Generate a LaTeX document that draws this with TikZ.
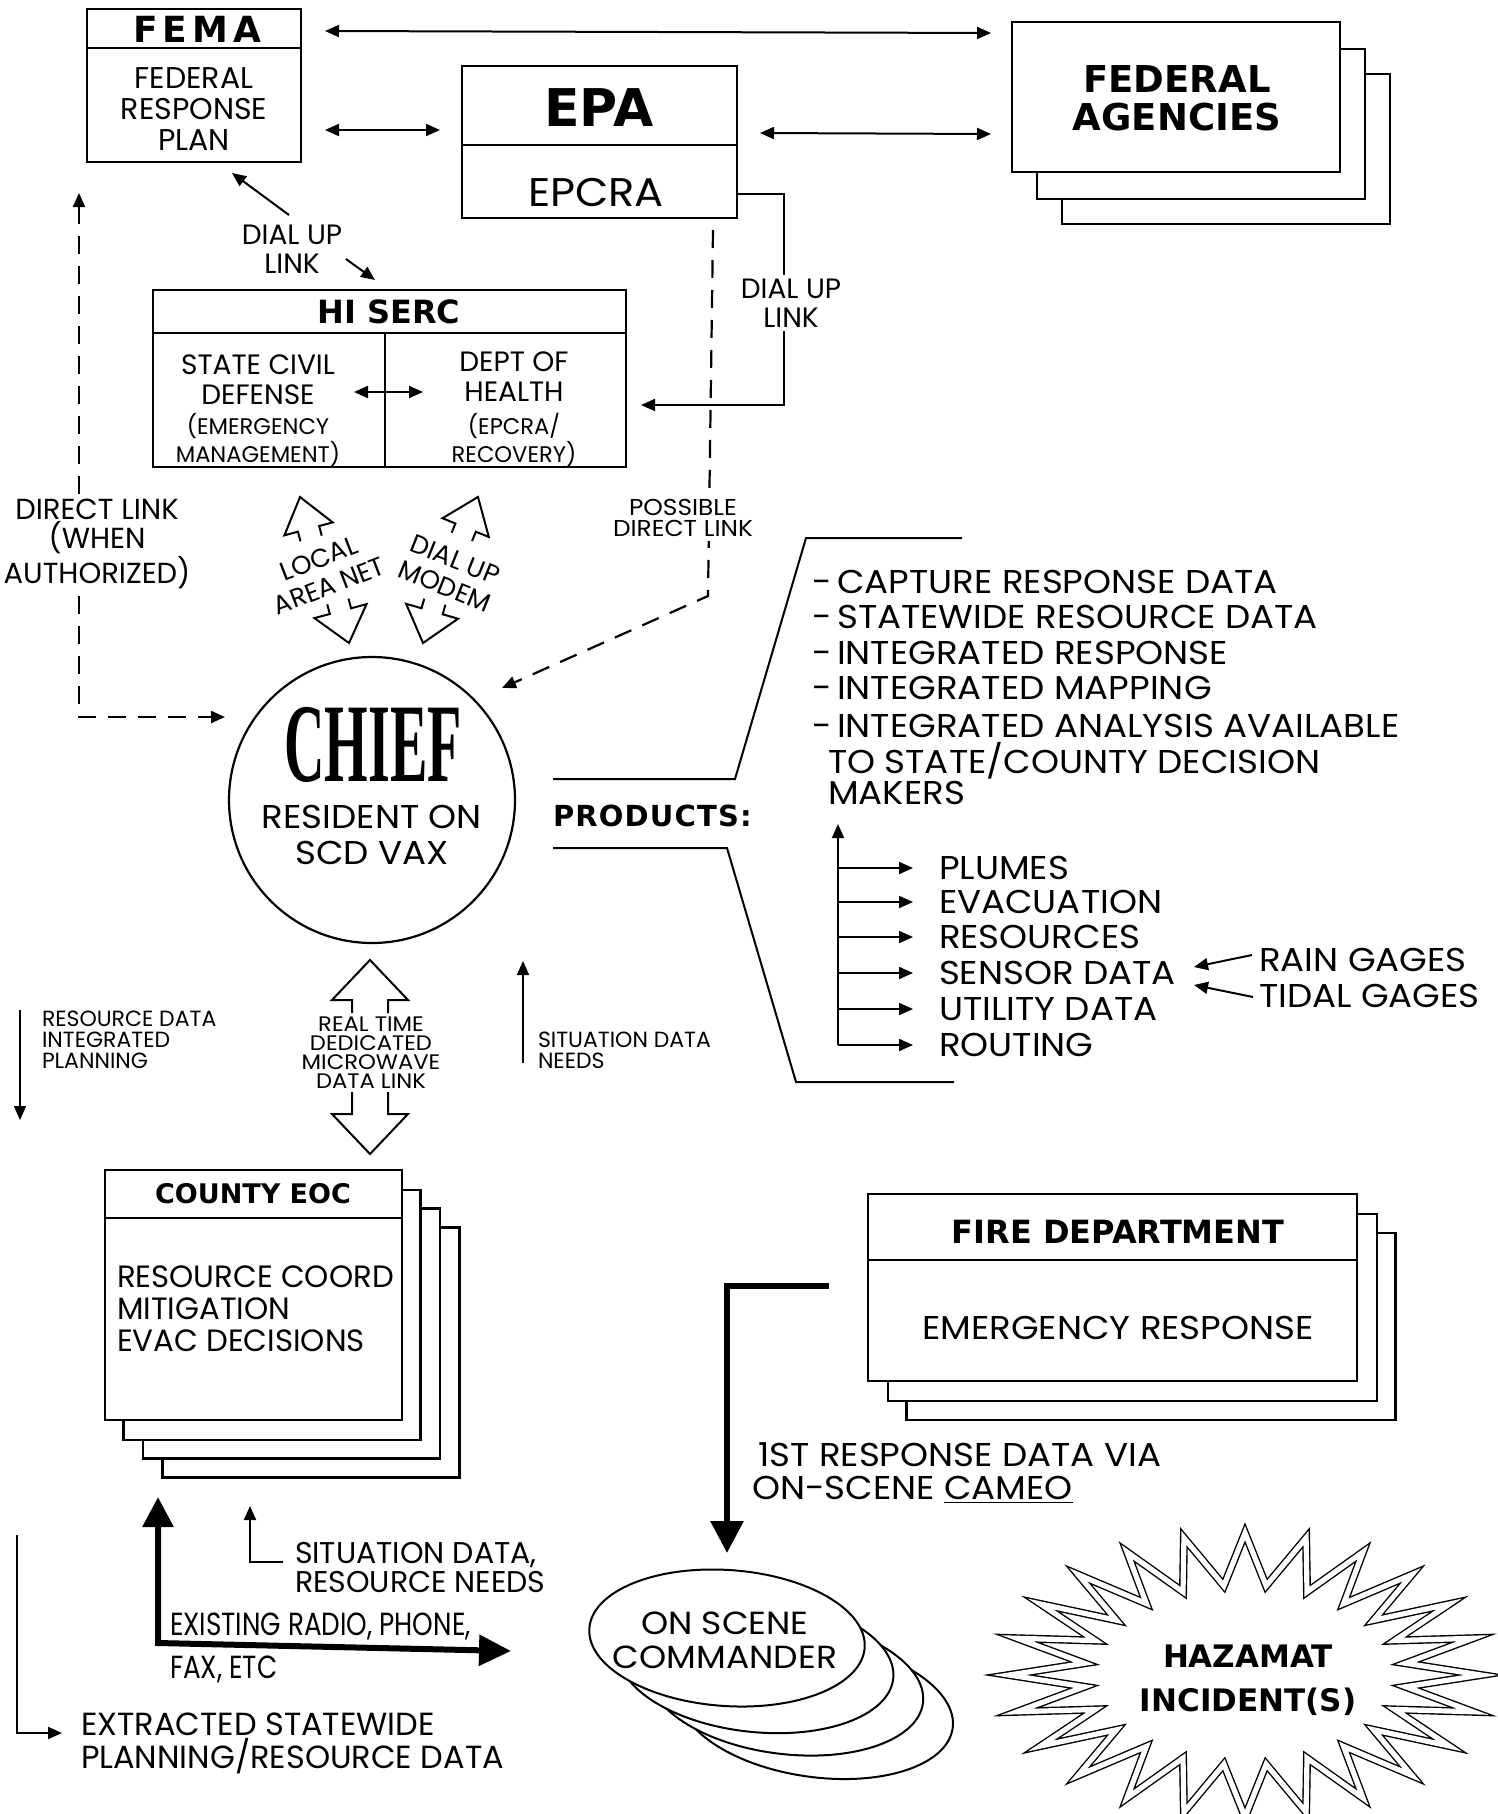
\documentclass[tikz,border=0pt]{standalone}
\usepackage{fontspec}
\usepackage{graphicx}
\setmainfont{Poppins}
\newfontfamily\hdr{DejaVu Sans}
\newfontfamily\cnd{Poppins}[FakeStretch=0.82]
\newfontfamily\wde{Poppins}[FakeStretch=1.08]
\newfontfamily\chf{Liberation Serif}
\usetikzlibrary{arrows.meta,shapes.geometric}
\newcommand{\fsz}[2]{\fontsize{#1}{#2}\selectfont}
\newcommand{\hollowhead}[7]{%
  \begin{scope}[shift={(#1,#2)},rotate=#3]
  \draw[line width=1pt, line join=miter] (-#6,#5+#7) -- (-#6,#5) -- (-#4,#5) -- (0,0) -- (#4,#5) -- (#6,#5) -- (#6,#5+#7);
  \end{scope}}
\begin{document}
\begin{tikzpicture}[x=0.5pt,y=-0.5pt,
  every node/.style={inner sep=0pt, outer sep=0pt},
  boxs/.style={draw, line width=1.1pt, fill=white, rectangle, inner sep=0pt},
  divl/.style={line width=1.1pt},
  ln/.style={line width=1pt},
  arr/.style={line width=1pt, -{Triangle[length=7pt,width=6pt]}},
  darr/.style={line width=1pt, {Triangle[length=7pt,width=6pt]}-{Triangle[length=7pt,width=6pt]}},
  dsh/.style={line width=1.1pt, dash pattern=on 9pt off 6pt},
  bigarr/.style={line width=3pt, -{Triangle[length=16pt,width=16pt]}},
  bigdarr/.style={line width=3pt, {Triangle[length=15pt,width=15pt]}-{Triangle[length=16pt,width=15pt]}},
  lbl/.style={fill=white, inner sep=2pt},
  hd/.style={font={\hdr\bfseries\fsz{16}{18}}},
  oval/.style={ellipse, draw, fill=white, line width=1pt, minimum width=138pt, minimum height=68pt},
]
\useasboundingbox (0,0) rectangle (1498,1814);
\fill[white] (0,0) rectangle (1498,1814);

% ---------------- FEMA
\node[boxs, minimum width=107pt, minimum height=76.5pt] (fema) at (194,85.5) {};
\draw[divl] (87,48) -- (301,48);
\node[font={\hdr\bfseries\addfontfeature{LetterSpace=14}\fsz{18}{20}}] (femat) at (197,29) {FEMA};
\node[font={\fsz{15}{15.5}}, align=center] (femab) at (194,109) {FEDERAL\\RESPONSE\\PLAN};

% ---------------- EPA
\node[boxs, minimum width=137.5pt, minimum height=76pt] (epa) at (599.5,142) {};
\draw[divl] (462,145) -- (737,145);
\node[font={\hdr\bfseries\fsz{26}{28}}] (epat) at (599,108) {EPA};
\node[font={\wde\fsz{20}{22}}] (epab) at (596,192) {EPCRA};

% ---------------- FEDERAL AGENCIES
\node[boxs, minimum width=164pt, minimum height=75pt] (fed3) at (1226,149) {};
\node[boxs, minimum width=164pt, minimum height=75pt] (fed2) at (1201,124) {};
\node[boxs, minimum width=164pt, minimum height=75pt] (fed1) at (1176,97) {};
\node[font={\hdr\bfseries\fsz{18.5}{19}}, align=center] (fedt) at (1177,98) {FEDERAL\\AGENCIES};

% top arrows
\coordinate (t1) at (325,31); \coordinate (t2) at (991,33);
\draw[darr] (t1) -- (t2);
\coordinate (t3) at (325,130); \coordinate (t4) at (440,130);
\draw[darr] (t3) -- (t4);
\coordinate (t5) at (760,133); \coordinate (t6) at (991,134);
\draw[darr] (t5) -- (t6);

% ---------------- HI SERC
\node[boxs, minimum width=236.5pt, minimum height=88.5pt] (serc) at (389.5,378.5) {};
\draw[divl] (153,333) -- (626,333);
\draw[divl] (385,333) -- (385,467);
\node[hd] (serct) at (389,312) {HI SERC};
\node[font={\fsz{14}{15}}, align=center] (scd) at (258,380) {STATE CIVIL\\DEFENSE};
\node[font={\fsz{11.3}{12.5}}, align=center] (scdb) at (258,440) {(EMERGENCY\\MANAGEMENT)};
\node[font={\fsz{14}{15}}, align=center] (doh) at (514,377) {DEPT OF\\HEALTH};
\node[font={\fsz{11.3}{12.5}}, align=center] (dohb) at (514,440) {(EPCRA/\\RECOVERY)};
\coordinate (h1) at (354,392); \coordinate (h2) at (423,392);
\draw[darr] (h1) -- (h2);

% dial up link (left)
\node[font={\fsz{14}{14.5}}, align=center] (dul) at (292,249) {DIAL UP\\LINK};
\coordinate (d1) at (289,215); \coordinate (d2) at (232,173);
\draw[arr] (d1) -- (d2);
\coordinate (d3) at (346,259); \coordinate (d4) at (375,280);
\draw[arr] (d3) -- (d4);

% EPA -> HI SERC dial up link
\coordinate (e1) at (737,194); \coordinate (eb) at (784,300); \coordinate (e2) at (641,405);
\draw[arr] (e1) -| (eb) |- (e2);
\node[lbl, font={\fsz{14}{14.5}}, align=center] (dur) at (791,303) {DIAL UP\\LINK};

% ---------------- CHIEF
\node[circle, draw, line width=1.1pt, minimum size=143pt] (chief) at (372,800) {};
\node (chieft) at (373,745) {\scalebox{0.5}[1]{\chf\bfseries\fsz{56}{56}CHIEF}};
\node[font={\wde\fsz{16.5}{18}}, align=center] (chiefb) at (372,835) {RESIDENT ON\\SCD VAX};

% direct link (left dashed)
\coordinate (dl1) at (79,193); \coordinate (dl2) at (225,717);
\draw[dsh, {Triangle[length=7pt,width=6pt]}-{Triangle[length=7pt,width=6pt]}] (dl1) |- (dl2);
\node[lbl, font={\fsz{14.5}{14.5}}, align=center] (dlt) at (97,544) {DIRECT LINK\\(WHEN\\AUTHORIZED)};

% possible direct link
\coordinate (pd1) at (713,230); \coordinate (pd2) at (708,596); \coordinate (pd3) at (502,688);
\draw[dsh, -{Triangle[length=7pt,width=6pt]}] (pd1) -- (pd2) -- (pd3);
\node[lbl, font={\wde\fsz{11.5}{10.5}}, align=center] (pdt) at (683,518) {POSSIBLE\\DIRECT LINK};

% local area net / dial up modem
\hollowhead{300}{497}{15}{25}{33}{11}{10}
\hollowhead{349}{643}{195}{27}{33}{11}{10}
\hollowhead{478}{497}{-22}{25}{33}{11}{10}
\hollowhead{423}{643}{164}{27}{33}{11}{10}
\node[font={\fsz{13}{14.5}}, align=center, rotate=21] (lan) at (324,572) {LOCAL\\AREA NET};
\node[font={\fsz{13}{14.5}}, align=center, rotate=-22] (mdm) at (450,573) {DIAL UP\\MODEM};

% ---------------- PRODUCTS
\draw[ln] (553,779) -- (735,779) -- (806,538) -- (962,538);
\draw[ln] (553,848) -- (727,848) -- (796,1082) -- (954,1082);
\node[anchor=west, font={\hdr\bfseries\addfontfeature{LetterSpace=4}\fsz{14.5}{16}}] (prod) at (553,816) {PRODUCTS:};
\node[anchor=west, font={\wde\fsz{16.5}{18}}] (b1) at (812,582) {-\,CAPTURE RESPONSE DATA};
\node[anchor=west, font={\wde\fsz{16.5}{18}}] (b2) at (812,617) {-\,STATEWIDE RESOURCE DATA};
\node[anchor=west, font={\wde\fsz{16.5}{18}}] (b3) at (812,653) {-\,INTEGRATED RESPONSE};
\node[anchor=west, font={\wde\fsz{16.5}{18}}] (b4) at (812,688) {-\,INTEGRATED MAPPING};
\node[anchor=west, font={\wde\fsz{16.5}{18}}] (b5) at (812,726) {-\,INTEGRATED ANALYSIS AVAILABLE};
\node[anchor=west, font={\wde\fsz{16.5}{18}}] (b6) at (828,761) {TO STATE/COUNTY DECISION};
\node[anchor=west, font={\wde\fsz{16.5}{18}}] (b7) at (828,793) {MAKERS};

\coordinate (pv0) at (838,1045); \coordinate (pv1) at (838,824);
\draw[arr] (pv0) -- (pv1);
\foreach \yy/\nm/\tx in {868/p1/PLUMES, 902/p2/EVACUATION, 937/p3/RESOURCES, 973/p4/SENSOR DATA, 1009/p5/UTILITY DATA, 1045/p6/ROUTING} {
  \node[anchor=west, font={\wde\fsz{16.5}{17}}] (\nm) at (939,\yy) {\tx};
  \draw[arr] (838,\yy) -- ([xshift=-13pt]\nm.west);
}
\node[anchor=west, font={\wde\fsz{16.5}{17}}] (rain) at (1259,960) {RAIN GAGES};
\node[anchor=west, font={\wde\fsz{16.5}{17}}] (tidal) at (1259,996) {TIDAL GAGES};
\coordinate (r1) at (1252,955); \coordinate (r2) at (1194,967);
\draw[arr] (r1) -- (r2);
\coordinate (r3) at (1253,997); \coordinate (r4) at (1194,985);
\draw[arr] (r3) -- (r4);

% situation data needs / resource data
\coordinate (sn1) at (523,1063); \coordinate (sn2) at (523,961);
\draw[arr] (sn1) -- (sn2);
\node[anchor=west, font={\fsz{11}{10.5}}, align=left] (snt) at (538,1050) {SITUATION DATA\\NEEDS};
\coordinate (rd1) at (20,1010); \coordinate (rd2) at (20,1120);
\draw[arr] (rd1) -- (rd2);
\node[anchor=west, font={\fsz{11}{10.5}}, align=left] (rdt) at (42,1040) {RESOURCE DATA\\INTEGRATED\\PLANNING};

% microwave link
\hollowhead{370}{960}{0}{38}{40}{18}{13}
\hollowhead{370}{1154}{180}{38}{40}{18}{22}
\node[font={\wde\fsz{10.5}{9.5}}, align=center] (mwt) at (371,1053) {REAL TIME\\DEDICATED\\MICROWAVE\\DATA LINK};

% ---------------- COUNTY EOC
\node[boxs, minimum width=148.5pt, minimum height=125pt] (eoc4) at (311,1352.5) {};
\node[boxs, minimum width=148.5pt, minimum height=125pt] (eoc3) at (291.5,1333.5) {};
\node[boxs, minimum width=148.5pt, minimum height=125pt] (eoc2) at (272,1315) {};
\node[boxs, minimum width=148.5pt, minimum height=125pt] (eoc1) at (253.5,1295) {};
\draw[divl] (105,1218) -- (402,1218);
\node[font={\hdr\bfseries\fsz{13.5}{17}}] (eoct) at (253,1194) {COUNTY EOC};
\node[anchor=west, font={\fsz{15.4}{16}}, align=left] (eocb) at (117,1309) {RESOURCE COORD\\MITIGATION\\EVAC DECISIONS};

\coordinate (c1) at (158,1497); \coordinate (c2) at (158,1643); \coordinate (c3) at (511,1651);
\draw[bigdarr, line join=miter] (c1) -- (c2) -- (c3);
\node[anchor=west, font={\cnd\fsz{16}{17}}] (ex1) at (170,1626) {EXISTING RADIO, PHONE,};
\node[anchor=west, font={\cnd\fsz{16}{17}}] (ex2) at (170,1669) {FAX, ETC};

\coordinate (s1) at (283,1562); \coordinate (s2) at (250,1506);
\draw[arr] (s1) -| (s2);
\node[anchor=west, font={\fsz{15}{14.5}}, align=left] (sdt) at (295,1567) {SITUATION DATA,\\RESOURCE NEEDS};

\coordinate (x1) at (17,1535); \coordinate (x2) at (62,1733);
\draw[arr] (x1) |- (x2);
\node[anchor=west, font={\fsz{16}{16.5}}, align=left] (xtt) at (81,1743) {EXTRACTED STATEWIDE\\PLANNING/RESOURCE DATA};

% ---------------- FIRE DEPARTMENT
\node[boxs, minimum width=244.5pt, minimum height=93.5pt] (fire3) at (1151,1326.5) {};
\node[boxs, minimum width=244.5pt, minimum height=93.5pt] (fire2) at (1132.5,1307.5) {};
\node[boxs, minimum width=244.5pt, minimum height=93.5pt] (fire1) at (1112.5,1287.5) {};
\draw[divl] (868,1260) -- (1357,1260);
\node[hd] (firet) at (1118,1232) {FIRE DEPARTMENT};
\node[font={\wde\fsz{16.5}{17}}] (fireb) at (1118,1328) {EMERGENCY RESPONSE};

\coordinate (f1) at (829,1286); \coordinate (f2) at (727,1553);
\draw[bigarr, line join=miter] (f1) -| (f2);
\node[anchor=west, font={\wde\fsz{16.5}{17}}] (fr1) at (758,1455) {1ST RESPONSE DATA VIA};
\node[anchor=west, font={\wde\fsz{16.5}{17}}] (fr2) at (752,1490) {ON-SCENE \underline{CAMEO}};

% ---------------- ON SCENE COMMANDER
\node[oval, rotate=-8] (osc4) at (816,1709) {};
\node[oval, rotate=-7] (osc3) at (786,1686) {};
\node[oval, rotate=-6] (osc2) at (756,1664) {};
\node[oval, rotate=-4] (osc1) at (727,1638) {};
\node[font={\wde\fsz{16}{17}}, align=center] (osct) at (725,1640) {ON SCENE\\COMMANDER};

% ---------------- HAZAMAT
\draw[line width=0.7pt, double=white, double distance=2.6pt, fill=white, line join=miter]
  plot[variable=\k, samples at={0,...,47}] ({1245+ifthenelse(mod(\k,2)==0,236,162)*cos(\k*7.5)}, {1675+ifthenelse(mod(\k,2)==0,142,90)*sin(\k*7.5)}) -- cycle;
\node[font={\hdr\bfseries\fsz{15.5}{22}}, align=center] (haz) at (1248,1680) {HAZAMAT\\INCIDENT(S)};
\end{tikzpicture}
\end{document}
